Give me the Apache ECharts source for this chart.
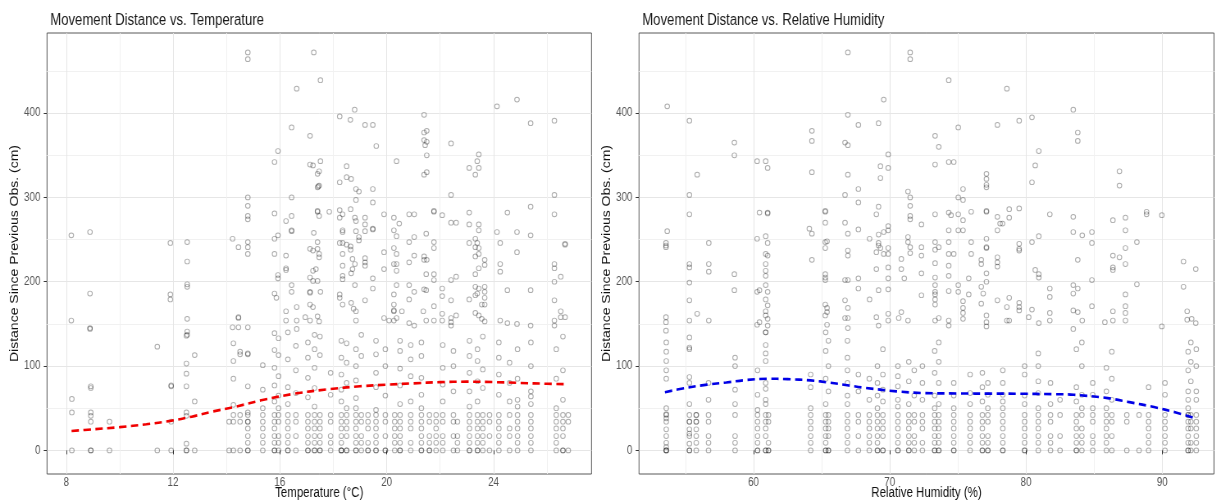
<!DOCTYPE html>
<html>
<head>
<meta charset="utf-8">
<script src="https://cdn.jsdelivr.net/npm/echarts@6/dist/echarts.min.js"></script>
<style>
  html, body { margin: 0; padding: 0; background: #fff; overflow: hidden; }
  #frame { width: 1220px; height: 501px; overflow: hidden; position: relative; }
  /* the figure is laid out wider and then compressed horizontally */
  #chart { width: 1488px; height: 501px; transform: scaleX(0.82); transform-origin: 0 0; }
</style>
</head>
<body>
<div id="frame"><div id="chart"></div></div>
<script>
// ---- axis ticks ----
const tempTicks = [8, 12, 16, 20, 24];
const tempMinor = [10, 14, 18, 22, 26];
const rhTicks = [60, 70, 80, 90];
const rhMinor = [55, 65, 75, 85];
const distTicks = [0, 100, 200, 300, 400];
const distMinor = [50, 150, 250, 350, 450];

// ---- temperature panel: low distances grouped by temperature [°C, [cm...]] ----
const tempColumns = [
  [8.21, [0, 45, 61]],
  [8.92, [0, 0, 34, 41, 45, 76, 74]],
  [9.62, [0, 34]],
  [11.41, [0, 123]],
  [11.93, [0, 34, 76, 77]],
  [12.5, [0, 0, 8, 41, 45, 76, 91, 103, 136]],
  [12.81, [0, 58, 113]],
  [14.1, [0, 34]],
  [14.26, [0, 34, 42, 54, 85, 106, 127]],
  [14.51, [0, 34, 42, 114, 117]],
  [14.8, [0, 0, 9, 17, 26, 34, 34, 42, 45, 76, 114, 115]],
  [15.36, [0, 9, 17, 26, 34, 42, 50, 72, 101]],
  [15.8, [0, 0, 9, 17, 26, 34, 42, 58, 77, 98, 119, 139]],
  [15.95, [0, 9, 17, 34, 42, 50, 65, 88, 113, 133]],
  [16.3, [0, 0, 9, 17, 26, 34, 42, 55, 75, 108, 140]],
  [16.6, [0, 17, 34, 42, 68, 95, 124]],
  [17.05, [0, 0, 9, 17, 26, 34, 42, 63, 86, 110, 128]],
  [17.3, [0, 0, 9, 17, 26, 34, 42, 52, 74, 98, 120, 137]],
  [17.5, [0, 0, 9, 17, 26, 34, 42, 113, 135]],
  [17.9, [0, 9, 17, 34, 42, 66, 92]],
  [18.3, [0, 0, 0, 9, 17, 26, 34, 42, 58, 72, 90, 110, 130]],
  [18.5, [0, 0, 17, 26, 34, 42, 50, 80, 104, 127]],
  [18.85, [0, 0, 9, 17, 26, 34, 42, 50, 62, 83, 100, 120]],
  [19.05, [0, 9, 17, 34, 42, 112, 137]],
  [19.3, [0, 0, 9, 26, 34, 42]],
  [19.6, [0, 0, 9, 17, 26, 34, 42, 48, 75, 92, 114, 130]],
  [19.95, [0, 0, 17, 34, 42, 65, 100, 120]],
  [20.3, [0, 9, 17, 26, 34, 42]],
  [20.5, [0, 0, 9, 17, 26, 34, 42, 55, 77, 97, 118, 130]],
  [20.9, [0, 9, 26, 34, 42, 58, 88, 108, 125]],
  [21.3, [0, 0, 9, 17, 26, 34, 42, 50, 66, 86, 112, 128]],
  [21.6, [0, 0, 9, 17, 34, 42]],
  [21.85, [0, 9, 17, 26, 34, 42]],
  [22.1, [0, 9, 17, 34, 42, 58, 78, 98, 125]],
  [22.5, [0, 17, 34, 42, 70, 100, 118]],
  [22.65, [0, 9, 17, 34]],
  [23.1, [0, 0, 9, 17, 26, 34, 42, 52, 70, 92, 112, 130]],
  [23.4, [0, 0, 9, 17, 26, 34, 42, 58, 82, 106, 120]],
  [23.6, [0, 9, 17, 26, 34, 42, 74, 96, 135]],
  [23.85, [0, 17, 34, 42]],
  [24.2, [0, 9, 17, 26, 34, 42, 66, 90, 110, 128]],
  [24.6, [0, 17, 26, 42, 58, 80, 104]],
  [24.9, [0, 9, 17, 26, 34, 42, 52, 60, 85, 120]],
  [25.4, [0, 9, 17, 26, 34, 42, 55, 64, 70, 100, 128]],
  [26.35, [0, 9, 17, 26, 34, 42, 50, 85, 120]],
  [26.6, [0, 0, 17, 26, 34, 42, 60, 95, 135]],
  [26.8, [0, 34, 42]]
];

// ---- temperature panel: larger distances [°C, cm] ----
const tempUpper = [
  [14.8,472],[14.8,464],[17.27,472],[17.52,439],[16.63,429],[18.8,404],[18.24,396],[18.64,392],[19.19,386],[19.48,386],
  [21.4,398],[24.13,408],[24.88,416],[25.39,388],[26.28,391],[16.44,383],[17.13,373],[19.61,361],
  [21.4,377],[21.5,379],[21.4,368],[21.5,366],[21.44,362],[21.5,350],[22.41,364],
  [23.45,351],[23.39,343],[23.45,335],[23.09,335],[23.32,327],[21.4,327],[21.5,330],[20.37,343],
  [15.93,355],[15.8,342],[17.13,339],[17.24,338],[17.52,343],[17.41,328],[17.47,331],[17.41,312],[17.47,314],[17.44,313],
  [18.5,337],[18.5,324],[18.67,322],[18.24,318],[18.85,310],[18.96,307],[19.48,310],[19.48,294],[18.85,297],[16.44,300],
  [14.8,300],[14.8,290],[14.8,278],[14.8,274],[22.41,303],[26.28,303],[26.28,280],[25.39,289],[24.52,282],[23.09,282],
  [21.77,283],[21.77,284],[22.08,279],[20.84,280],[21.03,280],[19.9,280],[20.27,276],[20.47,269],[22.41,270],[22.6,270],
  [17.41,283],[17.41,284],[17.47,278],[17.85,283],[18.24,285],[18.35,280],[18.24,276],[18.65,286],[18.81,276],[18.85,272],
  [15.8,281],[16.44,278],[16.23,272],[19.19,276],[19.19,268],[19.19,260],[19.48,262],[19.48,263],[18.85,260],[16.44,260],[16.44,261],
  [17.27,258],[18.35,261],[18.35,259],[20.37,254],[20.27,261],[21.48,257],[21.03,253],[20.84,247],
  [23.09,268],[23.45,268],[23.45,261],[23.32,251],[23.39,246],[24.13,259],[24.88,259],[25.39,255],[24.25,246],[26.68,244],[26.68,245],
  [21.77,247],[21.77,240],[21.4,230],[21.5,226],[21.4,226],[20.37,233],[20.27,240],[19.9,235],[21.03,231],[20.84,223],
  [23.09,246],[23.32,241],[23.45,240],[23.32,230],[23.45,233],[23.67,226],[23.67,220],[23.45,216],[23.32,209],[24.25,221],[24.25,212],[24.88,235],
  [26.28,221],[26.28,216],[26.28,200],[26.52,206],[26.28,178],
  [14.8,247],[14.8,241],[14.8,233],[14.45,241],[14.23,251],[11.9,246],[12.53,247],[12.53,224],[8.19,255],[8.89,259],
  [8.89,186],[8.19,154],[8.89,144],[8.89,145],[11.9,185],[11.9,179],[12.53,197],[12.53,194],[12.53,156],[12.53,141],[12.53,137],
  [14.45,157],[14.45,158],[14.23,146],[14.45,146],[14.8,146],
  [15.8,251],[15.93,255],[15.8,233],[16.23,231],[16.23,216],[16.23,214],[15.93,208],[15.93,204],[15.8,186],[15.87,181],[16.44,196],[16.44,188],
  [16.23,165],[16.23,154],[16.63,170],[16.63,154],[16.63,144],
  [17.13,239],[17.24,237],[17.41,239],[17.41,247],[17.47,233],[17.47,229],[17.24,213],[17.35,215],[17.13,205],[17.24,201],[17.41,201],[17.13,187],[17.13,188],[17.52,188],
  [17.13,173],[17.24,170],[16.95,158],[17.13,154],[17.41,159],[17.47,153],
  [18.24,246],[18.35,246],[18.5,244],[18.65,242],[18.65,238],[18.96,253],[18.96,249],[18.35,233],[18.35,219],[18.35,207],[18.35,203],[18.72,227],[18.72,215],[18.81,221],[18.67,210],[18.81,196],
  [19.19,228],[19.19,223],[19.19,219],[19.48,204],[19.48,192],[19.19,178],[18.24,185],[18.24,181],[18.35,173],[18.67,175],[18.76,168],[18.85,165],[18.85,154],
  [19.9,215],[20.27,221],[20.37,221],[20.37,213],[20.27,185],[20.27,173],[20.27,165],[20.27,166],[20.37,196],[20.84,196],[20.84,179],[21.03,188],[21.4,191],[21.48,190],
  [21.48,209],[21.77,209],[21.77,202],[21.37,165],[21.77,171],[22.08,192],[22.08,183],[22.41,202],[22.6,206],[22.41,178],[22.08,162],[22.41,157],[22.6,160],
  [23.32,194],[23.45,192],[23.67,194],[23.67,188],[23.67,181],[23.39,186],[23.32,184],[23.09,179],[23.67,173],[23.56,173],[23.32,163],[23.45,160],[23.56,156],[23.67,153],
  [24.52,190],[25.39,190],[24.25,154],[24.52,151],[24.88,150],[25.39,148],[26.52,165],[26.52,158],[26.68,158],[26.28,154],[26.28,148],
  [19.9,157],[20.09,154],[20.27,154],[20.37,157],[20.57,165],[20.84,151],[21.03,148],[21.48,154],[21.77,154],[22.08,154],[22.41,152],[22.41,148]
];

// loess trend of distance on temperature
const tempFit = [[8.2,23],[9,25],[10,27.6],[11,31],[11.9,35],[12.7,40],[13.4,45.5],[14.3,51.5],[15.3,59.4],[16.5,67],
  [17.8,72.5],[19,76],[20,78],[21,79.5],[22,81],[23,81.5],[24,81],[25,80],[26,79],[26.7,78.5]];

// ---- humidity panel: low distances grouped by humidity [%, [cm...]] ----
const rhColumns = [
  [53.6, [0, 0, 0, 4, 9, 17, 25, 34, 38, 42, 43, 50, 85, 95, 106, 117, 128]],
  [55.3, [0, 0, 8, 17, 20, 25, 34, 34, 42, 55, 80, 87, 120, 122, 134]],
  [55.8, [0, 9, 17, 25, 34, 34, 42, 42]],
  [56.7, [0, 9, 17, 34, 42, 60, 80]],
  [58.65, [0, 9, 17, 42, 55, 72, 100, 110]],
  [60.3, [0, 0, 9, 17, 26, 34, 42, 48, 66, 95]],
  [60.9, [0, 0, 17, 26, 34, 42, 55, 60, 73, 80, 106, 115, 125, 140]],
  [61.1, [0, 0, 9, 34, 42]],
  [64.2, [0, 9, 17, 26, 34, 42, 50, 75, 90]],
  [65.3, [0, 0, 9, 17, 26, 34, 42, 55, 85, 118, 140]],
  [65.5, [0, 0, 17, 26, 34, 42, 70, 100, 130]],
  [66.9, [0, 9, 17, 26, 34, 42, 55, 65, 80, 95, 110, 130]],
  [67.7, [0, 17, 34, 42, 70, 90]],
  [68.5, [0, 9, 17, 26, 34, 42, 60, 85]],
  [69.1, [0, 0, 9, 17, 26, 34, 42, 50, 65, 80, 100]],
  [69.5, [0, 0, 17, 26, 34, 42, 58, 72, 90, 120]],
  [70.6, [0, 0, 9, 17, 26, 34, 42, 52, 60, 76, 88, 100]],
  [71.4, [0, 0, 9, 17, 26, 34, 42, 55, 82, 105]],
  [71.8, [0, 9, 17, 34, 42, 65, 95]],
  [72.4, [0, 9, 26, 34, 42, 60, 80, 100]],
  [73.3, [0, 0, 9, 17, 26, 34, 42, 50, 65, 92, 118]],
  [73.6, [0, 0, 9, 17, 26, 34, 42, 55, 80, 105, 128]],
  [74.7, [0, 0, 9, 17, 26, 34, 42, 50, 65, 80]],
  [75.9, [0, 9, 17, 26, 34, 42, 55, 68, 90]],
  [76.8, [0, 0, 9, 17, 26, 34, 42, 58, 75, 92]],
  [77.2, [0, 0, 9, 17, 34, 42, 50, 66, 80]],
  [78.3, [0, 0, 9, 17, 26, 34, 42, 50, 58, 66, 80, 95]],
  [79.9, [0, 0, 9, 17, 26, 34, 42, 55, 65, 90, 100]],
  [80.9, [0, 9, 17, 26, 34, 42, 50, 68, 82, 100, 115]],
  [81.8, [0, 9, 17, 34, 42, 55, 80]],
  [82.5, [0, 17, 42, 60]],
  [83.7, [0, 0, 9, 17, 26, 34, 42, 58, 75, 120]],
  [84.1, [0, 9, 17, 26, 42, 50, 66, 100, 128]],
  [84.9, [0, 9, 17, 34, 42, 50, 66, 80]],
  [85.9, [0, 9, 17, 26, 34, 42, 50, 70, 98]],
  [86.3, [0, 17, 34, 42, 60, 85, 117]],
  [87.4, [0, 34, 42]],
  [88.3, [0, 42]],
  [89.0, [0, 9, 17, 26, 34, 42, 75]],
  [90.2, [0, 9, 17, 26, 34, 42, 66, 80]],
  [91.9, [0, 0, 9, 17, 26, 34, 42, 42, 50, 60, 70, 95, 117]],
  [92.1, [0, 9, 26, 34, 42, 82, 105, 128]],
  [92.5, [0, 9, 17, 26, 34, 42, 60, 70, 100, 120]]
];

// ---- humidity panel: larger distances [%, cm] ----
const rhUpper = [
  [53.67,408],[55.3,391],[58.6,365],[58.6,350],[55.87,327],[55.3,303],[55.3,280],[53.67,260],[53.58,246],[53.58,243],[53.58,241],
  [56.72,246],[55.3,221],[55.3,217],[56.72,221],[56.72,212],[55.3,199],[58.6,209],[58.6,190],[55.3,178],[55.87,162],[56.72,154],
  [55.3,154],[53.58,158],[53.58,152],[53.58,142],
  [60.27,343],[60.9,343],[61.04,335],[60.44,282],[61.04,281],[61.04,282],[60.27,251],[60.9,254],[61.04,246],[60.9,233],[61.04,231],
  [60.9,221],[60.9,213],[60.9,207],[60.9,196],[61.04,188],[60.27,188],[60.44,190],[60.9,179],[61.04,172],[60.9,165],[60.9,160],
  [61.04,156],[61.04,148],[60.27,149],[60.44,152],[60.9,140],
  [64.29,379],[64.29,367],[64.29,330],[64.1,263],[64.29,257],[64.29,226],[65.27,283],[65.27,284],[65.27,270],[65.27,247],[65.4,248],
  [65.27,240],[65.27,209],[65.27,205],[65.27,202],[65.27,173],[65.4,169],[65.4,164],[65.27,160],[65.4,149],
  [66.93,472],[66.93,398],[67.7,386],[66.72,365],[66.93,362],[66.93,327],[66.72,303],[67.7,310],[67.7,294],[66.72,270],[66.93,257],
  [67.7,262],[66.93,237],[66.93,231],[66.72,202],[66.93,202],[67.7,204],[67.7,192],[66.72,178],[66.93,169],[66.72,157],[66.93,157],[66.93,145],
  [68.52,251],[68.52,179],[69.18,388],[69.56,416],[69.32,337],[69.89,351],[69.89,335],[69.32,323],[69.18,289],[69.02,280],[69.18,256],
  [69.56,259],[69.89,261],[69.89,266],[69.18,246],[69.18,243],[69.32,240],[69.02,235],[69.56,233],[69.89,233],[69.89,240],
  [69.02,215],[69.89,217],[70.85,227],[70.85,215],[71.07,204],[69.18,190],[69.89,191],[69.89,204],[69.02,158],[69.18,148],[69.89,154],
  [69.89,162],[70.66,157],[70.85,164],
  [71.5,472],[71.5,464],[71.34,307],[71.5,300],[71.5,290],[71.5,278],[71.5,274],[71.34,253],[71.5,241],[71.34,247],[72.33,268],
  [72.33,241],[72.33,231],[72.33,210],[72.33,184],[71.5,234],[71.34,154],
  [74.33,439],[73.33,373],[73.6,360],[73.33,339],[74.33,342],[74.7,342],[73.33,280],[74.33,282],[74.5,279],[75.03,280],[75.38,273],
  [74.33,261],[75.03,261],[75.38,261],[73.33,247],[73.33,238],[73.6,241],[74.33,247],[74.33,233],[74.7,233],[73.33,222],[74.33,219],
  [74.33,207],[73.33,205],[73.33,196],[73.33,188],[73.33,185],[73.33,179],[73.33,173],[74.33,189],[75.03,196],[75.03,188],[73.6,157],
  [73.33,154],[74.33,154],[74.33,148],
  [75.03,383],[75.03,300],[75.38,297],[75.38,310],[75.98,283],[75.98,247],[75.98,233],[75.8,204],[75.38,177],[75.38,169],[75.38,163],
  [75.38,156],[75.8,185],
  [77.1,328],[77.1,322],[77.1,315],[77.1,312],[77.1,283],[77.1,284],[77.1,251],[77.1,240],[77.1,241],[76.72,226],[76.72,221],[77.1,210],
  [77.1,200],[76.72,194],[76.86,186],[76.72,174],[77.1,160],[77.1,152],[77.1,147],
  [77.9,386],[78.6,429],[77.9,277],[78.1,269],[77.9,261],[78.28,269],[78.77,286],[78.77,276],[79.5,287],[77.9,229],[77.9,223],[77.9,218],
  [77.9,178],[78.6,170],[78.77,181],[79.5,245],[79.5,239],[79.5,237],[79.5,175],[79.5,170],[79.5,166],[78.6,154],[78.77,154],
  [79.5,391],[80.44,395],[80.44,318],[80.94,355],[80.68,338],[80.44,247],[80.94,254],[81.75,280],[80.68,214],[80.94,209],[80.94,205],
  [80.44,167],[80.2,158],[80.94,151],[81.75,163],[81.75,154],[81.75,192],[81.75,182],
  [83.47,404],[83.8,377],[83.8,367],[83.47,277],[83.47,259],[84.13,255],[84.84,259],[83.8,226],[84.84,246],[83.47,196],[83.8,192],
  [83.47,186],[84.84,202],[84.84,171],[83.47,166],[83.8,164],[84.13,154],[83.47,144],
  [86.86,331],[86.86,314],[86.38,273],[87.3,276],[87.3,261],[88.14,247],[86.38,231],[86.86,229],[87.3,240],[87.3,221],[86.38,217],
  [86.38,214],[88.14,197],[87.3,185],[87.3,171],[87.3,163],[87.3,154],[86.38,165],[86.38,154],[85.79,152],
  [88.85,283],[88.85,280],[89.97,279],[91.56,224],[92.46,215],[91.56,194],[91.83,165],[91.83,155],[92.16,156],[92.46,151],[89.97,147]
];

// loess trend of distance on relative humidity
const rhFit = [[53.5,69],[55,74],[56.6,78],[58,80.5],[59.5,83.5],[61,85],[62.5,84.5],[64.2,83],[65.6,80.3],[67,77],[68.1,74.4],
  [70.5,70],[72.5,68],[75,67.5],[77.5,67.3],[79.6,67.2],[82,66.7],[83.5,66],[86,62],[87.5,57.5],[89.4,51.4],[91,45],[92.3,38.8]];

// ---- layout (in the widened drawing space) ----
const SX = 0.82;
const px = v => v / SX;
const FONT = "'Liberation Sans', Arial, sans-serif";
const TOP = 33, BOTTOM = 27;
const panels = [
  { left: px(47), width: px(544.5), xMin: 7.28, xMax: 27.67, ticks: tempTicks, minor: tempMinor,
    title: 'Movement Distance vs. Temperature', xName: 'Temperature (°C)' },
  { left: px(639), width: px(575), xMin: 51.6, xMax: 93.8, ticks: rhTicks, minor: rhMinor,
    title: 'Movement Distance vs. Relative Humidity', xName: 'Relative Humidity (%)' }
];
const yMin = -28, yMax = 495;

function expand(cols) {
  const out = [];
  cols.forEach(([x, ys]) => ys.forEach(y => out.push([x, y])));
  return out;
}

const grid = [], xAxis = [], yAxis = [], title = [];
panels.forEach((p, i) => {
  grid.push({ left: p.left, width: p.width, top: TOP, bottom: BOTTOM, show: true,
    borderColor: '#595959', borderWidth: 1, backgroundColor: 'transparent',
    containLabel: false, outerBoundsMode: 'none' });
  title.push({ text: p.title, left: p.left - 1, top: 8,
    textStyle: { fontFamily: FONT, fontSize: 16, fontWeight: 'normal', color: '#1a1a1a' } });
  // major x axis
  xAxis.push({ gridIndex: i, type: 'value', min: p.xMin, max: p.xMax, position: 'bottom',
    name: p.xName, nameLocation: 'middle', nameGap: 12, nameMoveOverlap: false,
    nameTextStyle: { fontFamily: FONT, fontSize: 14, color: '#111' },
    axisLine: { show: false },
    axisTick: { show: true, length: 4, customValues: p.ticks, lineStyle: { color: '#333', width: 1 } },
    axisLabel: { show: true, customValues: p.ticks, margin: 3, fontFamily: FONT, fontSize: 12, color: '#555' },
    splitLine: { show: true, lineStyle: { color: '#e6e6e6', width: 1 } } });
  // minor x grid
  xAxis.push({ gridIndex: i, type: 'value', min: p.xMin, max: p.xMax, position: 'bottom',
    axisLine: { show: false },
    axisTick: { show: false, customValues: p.minor },
    axisLabel: { show: false, customValues: p.minor },
    splitLine: { show: true, lineStyle: { color: '#f1f1f1', width: 1 } } });
  // major y axis
  yAxis.push({ gridIndex: i, type: 'value', min: yMin, max: yMax, position: 'left',
    name: 'Distance Since Previous Obs. (cm)', nameLocation: 'middle', nameGap: 28, nameRotate: 90,
    nameTextStyle: { fontFamily: FONT, fontSize: 14, color: '#111' },
    axisLine: { show: false },
    axisTick: { show: true, length: 4, customValues: distTicks, lineStyle: { color: '#333', width: 1 } },
    axisLabel: { show: true, customValues: distTicks, margin: 8, fontFamily: FONT, fontSize: 12, color: '#555' },
    splitLine: { show: true, lineStyle: { color: '#e6e6e6', width: 1 } } });
  // minor y grid
  yAxis.push({ gridIndex: i, type: 'value', min: yMin, max: yMax, position: 'left',
    axisLine: { show: false },
    axisTick: { show: false, customValues: distMinor },
    axisLabel: { show: false, customValues: distMinor },
    splitLine: { show: true, lineStyle: { color: '#f1f1f1', width: 1 } } });
});

const pointStyle = { color: 'rgba(0,0,0,0)', borderColor: 'rgba(0,0,0,0.4)', borderWidth: 1 };
const scatterSeries = (data, xi, yi) => ({
  type: 'scatter', xAxisIndex: xi, yAxisIndex: yi, data,
  symbol: 'circle', symbolSize: [5.6, 4.8], itemStyle: pointStyle,
  silent: true, animation: false, z: 3
});
const fitSeries = (data, xi, yi, color) => ({
  type: 'line', xAxisIndex: xi, yAxisIndex: yi, data, smooth: 0.35,
  showSymbol: false, symbol: 'none', silent: true, animation: false, z: 5,
  lineStyle: { color, width: 2.6, type: [9, 5.5], cap: 'butt' }
});

const chart = echarts.init(document.getElementById('chart'), null, { renderer: 'canvas' });
chart.setOption({
  animation: false,
  backgroundColor: '#ffffff',
  title, grid, xAxis, yAxis,
  series: [
    scatterSeries(expand(tempColumns).concat(tempUpper), 0, 0),
    fitSeries(tempFit, 0, 0, '#f00000'),
    scatterSeries(expand(rhColumns).concat(rhUpper), 2, 2),
    fitSeries(rhFit, 2, 2, '#0000e6')
  ]
});
</script>
</body>
</html>
